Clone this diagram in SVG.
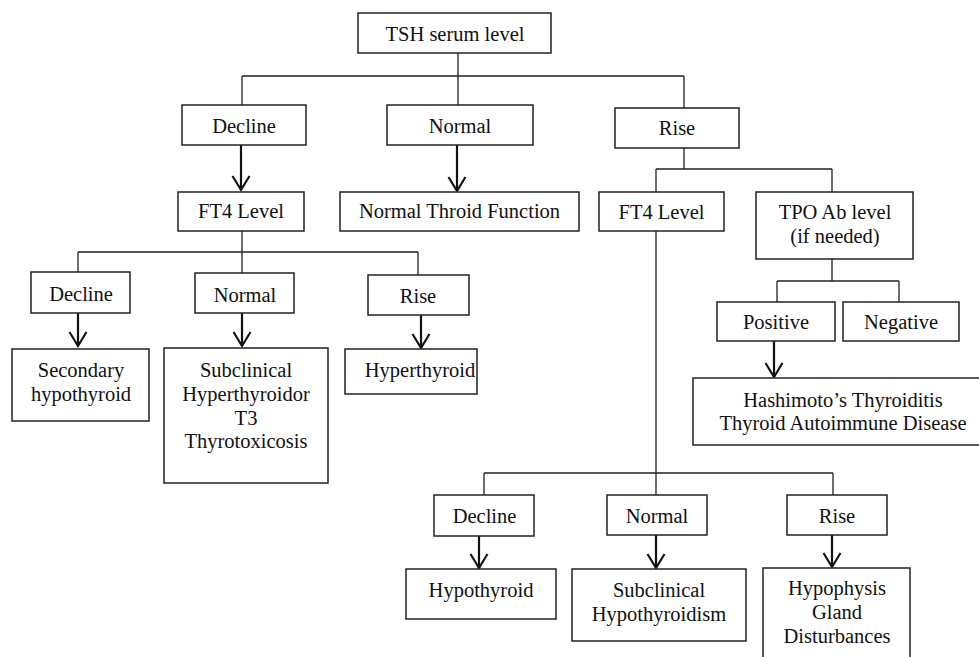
<svg xmlns="http://www.w3.org/2000/svg" width="979" height="657" viewBox="0 0 979 657">
<style>
.b{fill:#fff;stroke:#222;stroke-width:1.5}
.t{font-family:"Liberation Serif","Times New Roman",serif;font-size:20.5px;fill:#111;text-anchor:middle}
.c{fill:none;stroke:#222;stroke-width:1.3}
.a{fill:none;stroke:#111;stroke-width:2.2}
</style>
<defs>
<marker id="ah" markerUnits="userSpaceOnUse" markerWidth="24" markerHeight="24" viewBox="-12 -18 24 24" refX="0" refY="0" orient="auto-start-reverse" overflow="visible">
<path d="M-8.5,-14 L0,0 L8.5,-14" fill="none" stroke="#111" stroke-width="2.2" transform="rotate(-90)"/>
</marker>
</defs>
<rect width="979" height="657" fill="#fff"/>
<g id="connectors">
<path class="c" d="M458,53 V105 M242,76 H684 M242,76 V105 M684,76 V108"/>
<path class="c" d="M242,231 V273 M78,252 H418 M78,252 V272 M418,252 V275"/>
<path class="c" d="M684,148 V169 M656,169 H832 M656,169 V192 M832,169 V192"/>
<path class="c" d="M656,231 V495 M484,473 H833 M484,473 V495 M833,473 V495"/>
<path class="c" d="M832,259 V281 M777,281 H899 M777,281 V302 M899,281 V302"/>
<path class="a" d="M241,145 V190" marker-end="url(#ah)"/>
<path class="a" d="M457,145 V191" marker-end="url(#ah)"/>
<path class="a" d="M78,313 V346" marker-end="url(#ah)"/>
<path class="a" d="M242,313 V346" marker-end="url(#ah)"/>
<path class="a" d="M421,315 V348" marker-end="url(#ah)"/>
<path class="a" d="M774,341 V377" marker-end="url(#ah)"/>
<path class="a" d="M479,536 V568" marker-end="url(#ah)"/>
<path class="a" d="M656,535 V568" marker-end="url(#ah)"/>
<path class="a" d="M832,535 V567" marker-end="url(#ah)"/>
</g>
<g id="tsh"><rect class="b" x="358" y="13" width="193" height="40"/><text class="t" x="455" y="41">TSH serum level</text></g>
<g id="decline1"><rect class="b" x="182" y="105" width="124" height="40"/><text class="t" x="244" y="133">Decline</text></g>
<g id="normal1"><rect class="b" x="387" y="105" width="146" height="40"/><text class="t" x="460" y="133">Normal</text></g>
<g id="rise1"><rect class="b" x="615" y="108" width="124" height="40"/><text class="t" x="677" y="135">Rise</text></g>
<g id="ft4left"><rect class="b" x="178" y="192" width="126" height="39"/><text class="t" x="241" y="218">FT4 Level</text></g>
<g id="normalfunction"><rect class="b" x="340" y="192" width="239" height="39"/><text class="t" x="459.5" y="218">Normal Throid Function</text></g>
<g id="ft4right"><rect class="b" x="599" y="192" width="125" height="39"/><text class="t" x="661.5" y="219">FT4 Level</text></g>
<g id="tpo"><rect class="b" x="756" y="192" width="157" height="67"/><text class="t" x="835" y="219">TPO Ab level</text><text class="t" x="835" y="243">(if needed)</text></g>
<g id="positive"><rect class="b" x="717" y="302" width="118" height="39"/><text class="t" x="776" y="329">Positive</text></g>
<g id="negative"><rect class="b" x="843" y="302" width="116" height="39"/><text class="t" x="901" y="329">Negative</text></g>
<g id="hashimoto"><rect class="b" x="693" y="378" width="300" height="67"/><text class="t" x="843" y="407">Hashimoto’s Thyroiditis</text><text class="t" x="843" y="430">Thyroid Autoimmune Disease</text></g>
<g id="decline2"><rect class="b" x="31" y="272" width="99" height="41"/><text class="t" x="81" y="301">Decline</text></g>
<g id="normal2"><rect class="b" x="195" y="273" width="99" height="40"/><text class="t" x="245" y="302">Normal</text></g>
<g id="rise2"><rect class="b" x="368" y="275" width="101" height="40"/><text class="t" x="418" y="303">Rise</text></g>
<g id="secondary"><rect class="b" x="12" y="349" width="137" height="72"/><text class="t" x="81" y="377">Secondary</text><text class="t" x="81" y="401">hypothyroid</text></g>
<g id="subhyper"><rect class="b" x="164" y="348" width="164" height="135"/><text class="t" x="246" y="377">Subclinical</text><text class="t" x="246" y="401">Hyperthyroidor</text><text class="t" x="246" y="425">T3</text><text class="t" x="246" y="448">Thyrotoxicosis</text></g>
<g id="hyperthyroid"><rect class="b" x="345" y="349" width="132" height="45"/><text class="t" x="420" y="377">Hyperthyroid</text></g>
<g id="decline3"><rect class="b" x="434" y="495" width="100" height="41"/><text class="t" x="484.5" y="523">Decline</text></g>
<g id="normal3"><rect class="b" x="607" y="495" width="100" height="40"/><text class="t" x="657" y="523">Normal</text></g>
<g id="rise3"><rect class="b" x="787" y="495" width="100" height="40"/><text class="t" x="837" y="523">Rise</text></g>
<g id="hypothyroid"><rect class="b" x="406" y="569" width="150" height="50"/><text class="t" x="481" y="597">Hypothyroid</text></g>
<g id="subhypo"><rect class="b" x="572" y="569" width="174" height="72"/><text class="t" x="659" y="597">Subclinical</text><text class="t" x="659" y="621">Hypothyroidism</text></g>
<g id="hypophysis"><rect class="b" x="763" y="568" width="147" height="100"/><text class="t" x="837" y="595">Hypophysis</text><text class="t" x="837" y="619">Gland</text><text class="t" x="837" y="643">Disturbances</text></g>
</svg>
